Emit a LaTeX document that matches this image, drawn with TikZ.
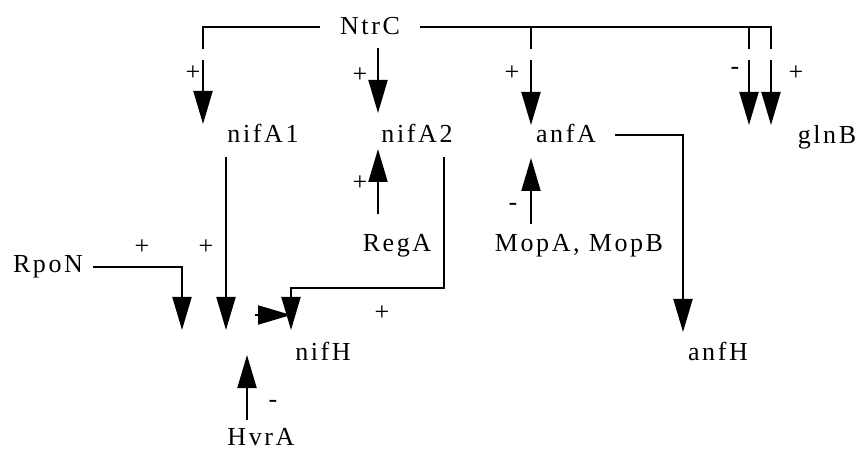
\documentclass[tikz,border=0pt]{standalone}
\usepackage{fontspec}
\setmainfont{Liberation Serif}[LetterSpace=10]
\usetikzlibrary{arrows.meta}

\begin{document}
\begin{tikzpicture}[x=1pt, y=-1pt, gene/.style={font=\fontsize{26}{30}\selectfont, inner sep=0pt, anchor=base}, sign/.style={font=\fontsize{26}{30}\selectfont, inner sep=0pt}, ln/.style={line width=2pt}, arr/.style={ln, -{Triangle[width=19pt,length=33pt]}}]
\useasboundingbox (0,0) rectangle (863,449);
% genes
\node[gene, inner xsep=20pt] (ntrc) at (370,35) {NtrC};
\node[gene] (nifaone) at (263,143) {nifA1};
\node[gene] (nifatwo) at (417,143) {nifA2};
\node[gene, inner xsep=19pt] (anfa) at (566,143) {anfA};
\node[gene] (glnb) at (827,144) {glnB};
\node[gene] (rega) at (397,252) {RegA};
\node[gene] (mop) at (579,252) {MopA, MopB};
\node[gene, inner xsep=10pt] (rpon) at (48,273) {RpoN};
\node[gene] (nifh) at (323,361) {nifH};
\node[gene] (hvra) at (261,445) {HvrA};
\node[gene] (anfh) at (718,361) {anfH};
% branch points and arrow ends
\coordinate (jl) at (203,49);
\coordinate (ja) at (531,49);
\coordinate (jg) at (749,49);
\coordinate (jrr) at (771,49);
\coordinate (n2) at (378,48);
\coordinate (n2t) at (378,113);
\coordinate (ja1) at (226,157);
\coordinate (ja2) at (444,157);
\coordinate (jbend) at (291,288);
\coordinate (jh) at (683,135);
\coordinate (nl) at (182,330);
\coordinate (nm) at (226,330);
\coordinate (nr) at (291,330);
\coordinate (nin) at (291,315);
\coordinate (nout) at (255,315);
\coordinate (hv) at (247,420);
\coordinate (hvt) at (247,355);
\coordinate (rg) at (378,214);
\coordinate (rgt) at (378,149);
\coordinate (mp) at (531,224);
\coordinate (mpt) at (531,158);
\coordinate (ah) at (683,332);
% NtrC
\draw[ln] (ntrc.west) -| (jl);
\draw[ln] (ntrc.east) -| (jrr);
\draw[ln] (ja |- ntrc.east) -- (ja);
\draw[ln] (jg |- ntrc.east) -- (jg);
\draw[arr] ([yshift=-11pt]jl) -- ++(0,64);
\draw[arr] (n2) -- (n2t);
\draw[arr] ([yshift=-11pt]ja) -- ++(0,65);
\draw[arr] ([yshift=-11pt]jg) -- ++(0,65);
\draw[arr] ([yshift=-11pt]jrr) -- ++(0,65);
% nifH
\draw[arr] (ja1) -- (nm);
\draw[arr] (rpon.east) -| (nl);
\draw[arr] (ja2) |- (jbend) -- (nr);
\draw[arr] (nout) -- (nin);
\draw[arr] (hv) -- (hvt);
% nifA2, anfA
\draw[arr] (rg) -- (rgt);
\draw[arr] (mp) -- (mpt);
\draw[arr] (anfa.east |- jh) -- (jh) -- (ah);
% signs
\node[sign] (s1) at (193,73) {+};
\node[sign] (s2) at (360,75) {+};
\node[sign] (s3) at (512,73) {+};
\node[sign] (s4) at (735,71) {-};
\node[sign] (s5) at (796,73) {+};
\node[sign] (s6) at (142,247) {+};
\node[sign] (s7) at (206,247) {+};
\node[sign] (s8) at (382,313) {+};
\node[sign] (s9) at (273,404) {-};
\node[sign] (s10) at (360,183) {+};
\node[sign] (s11) at (513,207) {-};
\end{tikzpicture}
\end{document}
